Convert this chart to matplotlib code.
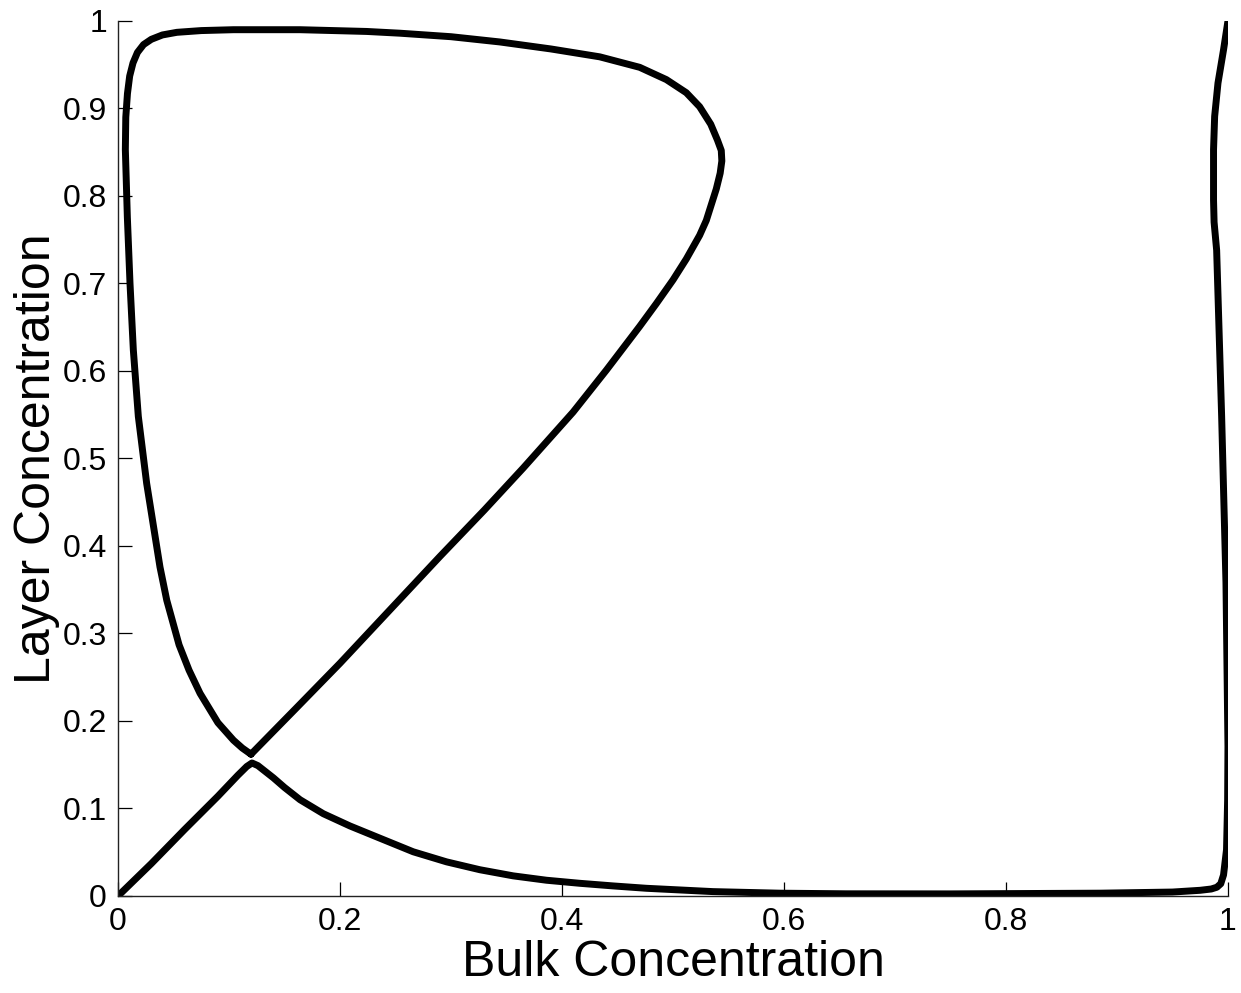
import numpy as np
import matplotlib
matplotlib.use("Agg")
import matplotlib.pyplot as plt

# branch 1: rises from the origin, falls along the bottom, then climbs the right edge
bulk_1 = [0.0, 0.03, 0.06, 0.09, 0.108, 0.116, 0.1207, 0.126, 0.133, 0.140, 0.150,
          0.164, 0.185, 0.209, 0.236, 0.266, 0.296, 0.326, 0.356, 0.386, 0.416,
          0.446, 0.476, 0.536, 0.596, 0.656, 0.75, 0.885, 0.95, 0.975, 0.985,
          0.990, 0.9935, 0.996, 0.9987, 0.9997, 1.0, 0.9982, 0.9943, 0.9898,
          0.9875, 0.987, 0.987, 0.988, 0.991, 0.996, 1.0]
layer_1 = [0.0, 0.037, 0.076, 0.114, 0.138, 0.148, 0.152, 0.149, 0.142, 0.135, 0.124,
           0.110, 0.094, 0.080, 0.066, 0.0505, 0.039, 0.030, 0.023, 0.018, 0.0145,
           0.0115, 0.0088, 0.005, 0.0032, 0.0025, 0.0024, 0.0032, 0.0045, 0.0065, 0.008,
           0.010, 0.014, 0.024, 0.053, 0.11, 0.171, 0.358, 0.548, 0.738,
           0.770, 0.795, 0.853, 0.891, 0.929, 0.967, 1.0]

# branch 2: closed loop in the upper left
bulk_2 = [0.1198, 0.112, 0.104, 0.090, 0.0739, 0.064, 0.055, 0.0439, 0.0378, 0.0258,
          0.0183, 0.0138, 0.0108, 0.0084, 0.0066, 0.0070, 0.0085, 0.0105, 0.0135,
          0.0175, 0.023, 0.030, 0.040, 0.053, 0.075, 0.104, 0.164, 0.224, 0.254,
          0.300, 0.344, 0.390, 0.434, 0.470, 0.494, 0.512, 0.524, 0.534, 0.540,
          0.5435, 0.544, 0.5425, 0.539, 0.530, 0.524, 0.512, 0.500, 0.485, 0.470,
          0.440, 0.410, 0.365, 0.330, 0.290, 0.245, 0.200, 0.160, 0.1198]
layer_2 = [0.162, 0.169, 0.178, 0.198, 0.2316, 0.258, 0.287, 0.338, 0.376, 0.4716,
           0.548, 0.624, 0.700, 0.776, 0.853, 0.890, 0.917, 0.937, 0.952,
           0.964, 0.973, 0.979, 0.984, 0.987, 0.989, 0.990, 0.990, 0.988, 0.986,
           0.982, 0.976, 0.968, 0.959, 0.947, 0.933, 0.918, 0.902, 0.882, 0.864,
           0.852, 0.840, 0.826, 0.808, 0.772, 0.755, 0.728, 0.704, 0.677, 0.651,
           0.601, 0.553, 0.489, 0.441, 0.388, 0.327, 0.266, 0.214, 0.162]

ticks = np.round(np.arange(0, 1.01, 0.1), 1)
xticks = [0, 0.2, 0.4, 0.6, 0.8, 1]

plt.rcParams['font.family'] = ['Liberation Sans', 'DejaVu Sans']

fig = plt.figure(figsize=(12.41, 9.93), dpi=100)
ax = fig.add_axes([0.0951, 0.0977, 0.8944, 0.8812])

line_kw = dict(color='black', lw=5, solid_capstyle='round', solid_joinstyle='round')
ax.plot(bulk_1, layer_1, **line_kw)
ax.plot(bulk_2, layer_2, **line_kw)

ax.set_xlim(0, 1)
ax.set_ylim(0, 1)
ax.set_xticks(xticks)
ax.set_xticklabels([f"{t:g}" for t in xticks])
ax.set_yticks(ticks)
ax.set_yticklabels([f"{t:g}" for t in ticks])

ax.spines['top'].set_visible(False)
ax.spines['right'].set_visible(False)
for s in ['left', 'bottom']:
    ax.spines[s].set_linewidth(1.0)
    ax.spines[s].set_color('#222222')
ax.tick_params(direction='in', length=10, width=0.9, labelsize=23, colors='black', pad=8)

ax.set_xlabel("Bulk Concentration", fontsize=36, labelpad=2)
ax.set_ylabel("Layer Concentration", fontsize=36, labelpad=2)

fig.savefig("out.png", dpi=100)
